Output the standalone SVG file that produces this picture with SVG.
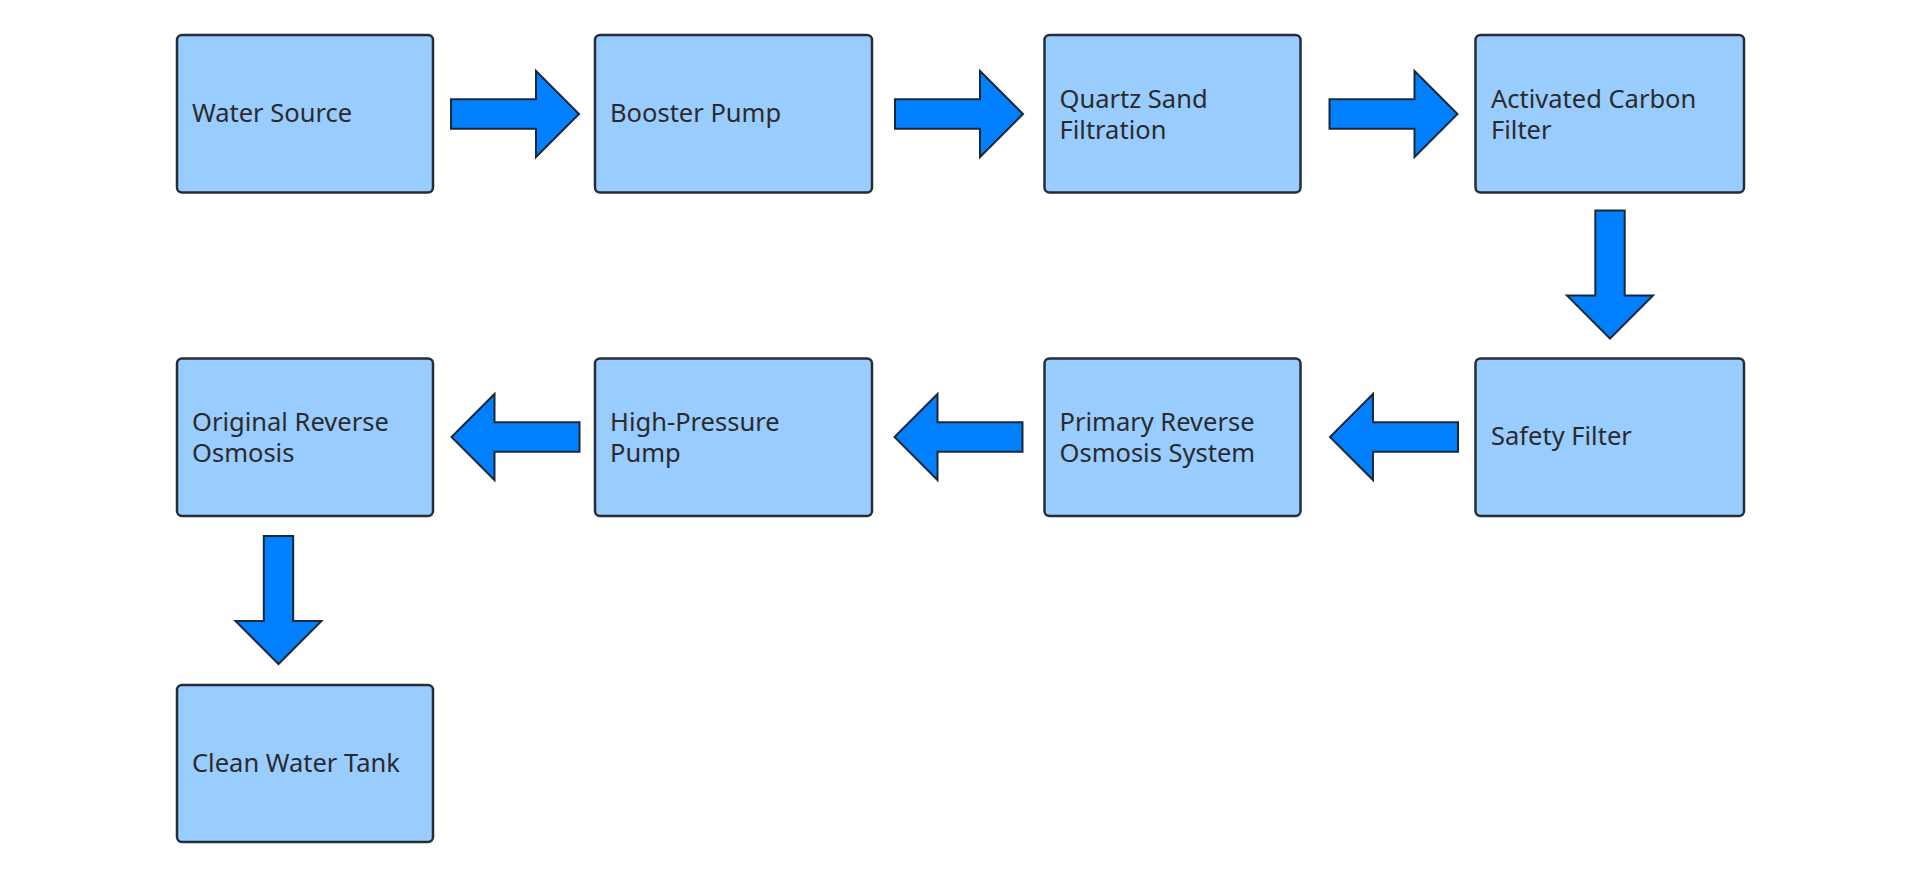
<svg xmlns="http://www.w3.org/2000/svg" xmlns:xlink="http://www.w3.org/1999/xlink" width="1920" height="876" viewBox="0 0 1920 876">
<style>
.box{fill:#99CCFF;stroke:#262d36;stroke-width:2.5}
.lbl{font-family:"Noto Sans","Open Sans",sans-serif;font-size:25.5px;fill:#2b2b2b}
.arr{fill:#0080FF;stroke:#1c2836;stroke-width:2;stroke-linejoin:miter}
</style>
<defs>
<path id="ar" d="M0,-14.7 H85 V-43 L128,0 L85,43 V14.7 H0 Z"/>
</defs>
<rect width="1920" height="876" fill="#ffffff"/>
<g id="connectors">
<use xlink:href="#ar" class="arr" transform="translate(451,114)"/>
<use xlink:href="#ar" class="arr" transform="translate(895,114)"/>
<use xlink:href="#ar" class="arr" transform="translate(1329.5,114)"/>
<use xlink:href="#ar" class="arr" transform="translate(1610,210.5) rotate(90)"/>
<use xlink:href="#ar" class="arr" transform="translate(1458,437) scale(-1,1)"/>
<use xlink:href="#ar" class="arr" transform="translate(1022.5,437) scale(-1,1)"/>
<use xlink:href="#ar" class="arr" transform="translate(579.5,437) scale(-1,1)"/>
<use xlink:href="#ar" class="arr" transform="translate(278.5,536) rotate(90)"/>
</g>
<g id="water-source">
<rect class="box" x="177" y="35" width="256" height="157.5" rx="5"/>
<text class="lbl" x="192" y="122">Water Source</text>
</g>
<g id="booster-pump">
<rect class="box" x="595" y="35" width="277" height="157.5" rx="5"/>
<text class="lbl" x="610" y="122">Booster Pump</text>
</g>
<g id="quartz-sand">
<rect class="box" x="1044.5" y="35" width="256" height="157.5" rx="5"/>
<text class="lbl" x="1059.5" y="107.5">Quartz Sand</text>
<text class="lbl" x="1059.5" y="138.5">Filtration</text>
</g>
<g id="activated-carbon">
<rect class="box" x="1475.5" y="35" width="268.5" height="157.5" rx="5"/>
<text class="lbl" x="1491" y="107.5">Activated Carbon</text>
<text class="lbl" x="1491" y="138.5">Filter</text>
</g>
<g id="safety-filter">
<rect class="box" x="1475.5" y="358.5" width="268.5" height="157.5" rx="5"/>
<text class="lbl" x="1491" y="445">Safety Filter</text>
</g>
<g id="primary-ro">
<rect class="box" x="1044.5" y="358.5" width="256" height="157.5" rx="5"/>
<text class="lbl" x="1059.5" y="431">Primary Reverse</text>
<text class="lbl" x="1059.5" y="462">Osmosis System</text>
</g>
<g id="high-pressure-pump">
<rect class="box" x="595" y="358.5" width="277" height="157.5" rx="5"/>
<text class="lbl" x="610" y="431">High-Pressure</text>
<text class="lbl" x="610" y="462">Pump</text>
</g>
<g id="original-ro">
<rect class="box" x="177" y="358.5" width="256" height="157.5" rx="5"/>
<text class="lbl" x="192" y="431">Original Reverse</text>
<text class="lbl" x="192" y="462">Osmosis</text>
</g>
<g id="clean-water-tank">
<rect class="box" x="177" y="685" width="256" height="157" rx="5"/>
<text class="lbl" x="192" y="772">Clean Water Tank</text>
</g>
</svg>
